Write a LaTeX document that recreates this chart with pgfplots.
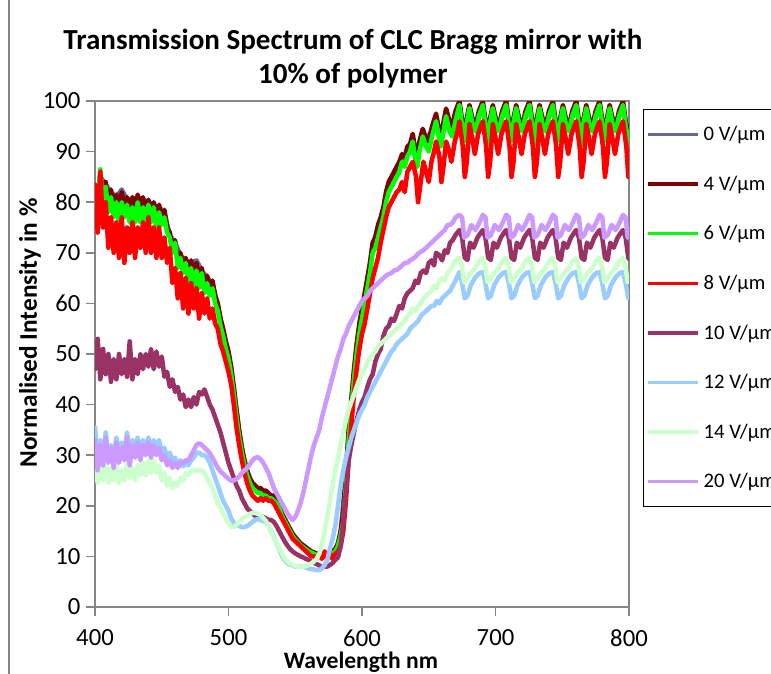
\documentclass[border=0pt]{standalone}
\usepackage{pgfplots}
\pgfplotsset{compat=1.18}
\usepackage{fontspec}
\setmainfont{Carlito}
\definecolor{c0}{RGB}{102,102,153}
\definecolor{c4}{RGB}{128,0,0}
\definecolor{c6}{RGB}{0,255,0}
\definecolor{c8}{RGB}{255,0,0}
\definecolor{c10}{RGB}{153,51,102}
\definecolor{c12}{RGB}{153,204,255}
\definecolor{c14}{RGB}{204,255,204}
\definecolor{c20}{RGB}{204,153,255}
\definecolor{axgray}{RGB}{134,134,134}
\begin{document}
\begin{tikzpicture}
\useasboundingbox (0,0) rectangle (578.25pt,-505.5pt);
\draw[axgray, line width=1.2pt] (6.75pt,0pt) -- (6.75pt,-505.5pt);
\begin{axis}[
  at={(71.25pt,-455.25pt)}, anchor=south west,
  width=400.5pt, height=379.5pt, scale only axis,
  xmin=400, xmax=800, ymin=0, ymax=100,
  xtick={400,500,600,700,800}, ytick={0,10,...,100},
  axis line style={axgray, line width=1.2pt},
  tick style={axgray, line width=1.2pt},
  tick align=outside, major tick length=6.5pt,
  xtick pos=bottom, ytick pos=left,
  ticklabel style={font=\fontsize{18.5}{20}\selectfont, text=black},
  xticklabel style={yshift=-7pt},
  yticklabel style={xshift=-1pt},
  /pgf/number format/assume math mode=true,
  title={Transmission Spectrum of CLC Bragg mirror with\\10\% of polymer},
  title style={at={(axis description cs:0.483,1.068)}, anchor=center, align=center, font=\bfseries\fontsize{21.8}{25}\selectfont},
  xlabel={Wavelength nm},
  xlabel style={at={(axis description cs:0.498,-0.110)}, anchor=center, font=\bfseries\fontsize{17.7}{20}\selectfont},
  ylabel={Normalised Intensity in \%},
  ylabel style={at={(axis description cs:-0.1217,0.5415)}, anchor=center, font=\bfseries\fontsize{19}{21}\selectfont},
  legend style={at={(axis description cs:1.0262,0.9842)}, anchor=north west, draw=black, line width=1pt,
    font=\fontsize{15.5}{18}\selectfont, inner xsep=2pt, inner ysep=0pt, row sep=0pt,
    nodes={inner xsep=3pt, inner ysep=0pt, minimum height=37.2pt}},
  legend cell align=left,
  legend image code/.code={\draw[#1, line width=2.5pt, line cap=butt] (0pt,0pt) -- (37.5pt,0pt);},
  every axis plot/.append style={line width=3.4pt, line join=round, line cap=round},
]
\addplot[c0] coordinates {(400,76)(404,85)(408,83.5)(412,82)(416,81)(420,82.5)(424,80.5)(428,80.5)(432,81)(436,80.5)(440,80)(444,79.5)(448,79)(452,78)(456,73.5)(460,72)(464,69.5)(468,68.5)(472,68)(476,68.5)(480,66.5)(484,65)(488,64)(492,59.5)(496,54.5)(500,50)(504,43)(508,34.5)(512,28.5)(516,25)(520,23.5)(524,23)(528,22.5)(532,21.5)(536,20.5)(540,18)(544,16)(548,14)(552,12.7)(556,11.7)(560,10.9)(564,10.3)(568,10)(572,10)(576,10.2)(580,11)(584,14.5)(588,26.5)(592,40.5)(596,51.5)(600,58.5)(604,64.5)(608,71.5)(612,75)(616,78.5)(620,83.5)(624,85.5)(628,87.5)(632,88.5)(636,91)(640,89.5)(643,91.5)(648,92)(652.5,94.5)(655.5,97)(659,92.5)(663,98)(667.5,94.5)(670,97.5)(673,99.5)(676.5,93)(680.5,98.7)(685,94.5)(690.5,99.5)(694,93)(698,98.7)(702.5,94.5)(708,99.5)(711.5,93)(715.5,98.7)(720,94.5)(725.5,99.5)(729,93)(733,98.7)(737.5,94.5)(743,99.5)(746.5,93)(750.5,98.7)(755,94.5)(760.5,99.5)(764,93)(768,98.7)(772.5,94.5)(778,99.5)(781.5,93)(785.5,98.7)(790,94.5)(795.5,99.5)(799,93)(800,94.5)};
\addlegendentry{\makebox[70pt][l]{0 V/µm}}
\addplot[c4] coordinates {(400,76)(402,81)(404,85.5)(406,80)(408,84)(410,79)(412,82.5)(414,78)(416,81.5)(418,78)(420,82)(422,78.5)(424,81)(426,77.5)(428,81)(430,78)(432,81.5)(434,78)(436,81)(438,77)(440,80.5)(442,77)(444,80)(446,76.5)(448,79.5)(450,76)(452,78.5)(454,75)(456,74)(458,71)(460,72.5)(462,68)(464,70)(466,67)(468,69)(470,65.5)(472,68.5)(474,65)(476,68)(478,64)(480,67)(482,63)(484,65.5)(486,63)(488,64.5)(490,61.5)(492,60)(494,57)(496,55)(498,52.5)(500,50.5)(502,47.5)(504,43.5)(506,39)(508,35)(510,31.5)(512,29)(514,27)(516,25.5)(518,24.5)(520,24)(522,23.5)(524,23.5)(526,23)(528,23)(530,22.5)(532,22)(534,22)(536,21)(538,20)(540,18.5)(542,17.5)(544,16.5)(546,15.5)(548,14.5)(550,13.8)(552,13.2)(554,12.6)(556,12.2)(558,11.8)(560,11.4)(562,11)(564,10.8)(566,10.6)(568,10.5)(570,10.6)(572,10.4)(574,10.4)(576,10.6)(578,11)(580,11.5)(582,12.5)(584,15)(586,19)(588,27)(590,35)(592,41)(594,47)(596,52)(598,56)(600,59)(602,62)(604,65)(606,68)(608,72)(610,73)(612,75.5)(614,77)(616,79)(618,82)(620,84)(622,85)(624,86)(626,87)(628,88)(630,89.5)(632,89)(634,91)(636,91.5)(638,93.5)(640,90)(641.5,89)(643,92)(645.5,94.5)(648,92.5)(650,92)(652.5,95)(655.5,97.5)(657.5,94.5)(659,93)(660.5,95)(663,98.5)(665.5,96)(667.5,95)(670,98)
(673,100)(675,96)(676.5,93.5)(678,96)(680.5,99.2)(683,96)(685,95)(687.5,98)
(690.5,100)(692.5,96)(694,93.5)(695.5,96)(698,99.2)(700.5,96)(702.5,95)(705,98)
(708,100)(710,96)(711.5,93.5)(713,96)(715.5,99.2)(718,96)(720,95)(722.5,98)
(725.5,100)(727.5,96)(729,93.5)(730.5,96)(733,99.2)(735.5,96)(737.5,95)(740,98)
(743,100)(745,96)(746.5,93.5)(748,96)(750.5,99.2)(753,96)(755,95)(757.5,98)
(760.5,100)(762.5,96)(764,93.5)(765.5,96)(768,99.2)(770.5,96)(772.5,95)(775,98)
(778,100)(780,96)(781.5,93.5)(783,96)(785.5,99.2)(788,96)(790,95)(792.5,98)
(795.5,100)(797.5,96)(799,93.5)(800,95)};
\addlegendentry{\makebox[70pt][l]{4 V/µm}}
\addplot[c6] coordinates {(400,75)(402,80)(404,86.5)(406,79)(408,83)(410,78)(412,81)(414,77)(416,80)(418,76)(420,80)(422,77)(424,79.5)(426,76)(428,79)(430,76)(432,80)(434,76)(436,79)(438,76)(440,79.5)(442,76)(444,79)(446,75)(448,78)(450,75.5)(452,77)(454,74)(456,73)(458,70)(460,72)(462,67)(464,69)(466,66)(468,68)(470,64)(472,67)(474,63)(476,66.5)(478,63)(480,66)(482,62)(484,64)(486,61.5)(488,63)(490,60)(492,58.5)(494,55.5)(496,53.5)(498,51)(500,49)(502,46)(504,42)(506,37.5)(508,33.5)(510,30.5)(512,28)(514,26)(516,24.5)(518,23.5)(520,23)(522,22.5)(524,22.5)(526,22)(528,22)(530,21.5)(532,21.5)(534,21)(536,20.5)(538,19.5)(540,18)(542,17)(544,16)(546,15)(548,14)(550,13.3)(552,12.8)(554,12.2)(556,11.8)(558,11.4)(560,11)(562,10.8)(564,10.5)(566,10.3)(568,10.2)(570,10.3)(572,10.2)(574,10)(576,10.3)(578,10.5)(580,11)(582,12)(584,14)(586,17)(588,24)(590,33)(592,39)(594,45)(596,50)(598,54)(600,57)(602,60)(604,63)(606,66)(608,70)(610,71)(612,73)(614,75)(616,77)(618,80)(620,82)(622,83)(624,84)(626,85)(628,86)(630,88)(632,87)(634,89)(636,90)(638,92)(640,88)(641.5,87)(643,90)(645.5,93)(648,91)(650,90)(652.5,93)(655.5,96)(657.5,93)(659,91)(660.5,93)(663,97)(665.5,94)(667.5,93)(670,96)
(673,99.2)(675,95)(676.5,92)(678,95)(680.5,98.6)(683,95)(685,94)(687.5,97)
(690.5,99.2)(692.5,95)(694,91.5)(695.5,95)(698,98.6)(700.5,95)(702.5,94)(705,97)
(708,99.2)(710,95)(711.5,92)(713,95)(715.5,98.6)(718,95)(720,94)(722.5,97)
(725.5,99.2)(727.5,95)(729,91.5)(730.5,95)(733,98.6)(735.5,95)(737.5,94)(740,97)
(743,99.2)(745,95)(746.5,92)(748,95)(750.5,98.6)(753,95)(755,94)(757.5,97)
(760.5,99.2)(762.5,95)(764,91.5)(765.5,95)(768,98.6)(770.5,95)(772.5,94)(775,97)
(778,99.2)(780,95)(781.5,92)(783,95)(785.5,98.6)(788,95)(790,94)(792.5,97)
(795.5,99.2)(797.5,95)(799,92)(800,94)};
\addlegendentry{\makebox[70pt][l]{6 V/µm}}
\addplot[c8] coordinates {(400,83.5)(402,74)(404,86)(406,75)(408,80)(410,71)(412,77)(414,70)(416,76)(418,69)(420,77)(422,68)(424,75)(426,70)(428,76)(430,69)(432,75)(434,71)(436,76)(438,70)(440,77)(442,70)(444,75)(446,69)(448,75)(450,69)(452,73)(454,68)(456,71)(458,64)(460,67)(462,61)(464,66)(466,59)(468,65)(470,58)(472,64)(474,59)(476,63)(478,57)(480,62)(482,58)(484,61)(486,57)(488,59)(490,56)(492,55)(494,52)(496,50.5)(498,48.5)(500,46.5)(502,44)(504,40)(506,35.5)(508,32)(510,29)(512,26.5)(514,24.5)(516,23)(518,22)(520,21.5)(522,21)(524,21.5)(526,21)(528,21.5)(530,21)(532,21)(534,20.5)(536,19.5)(538,18.5)(540,17.5)(542,16.5)(544,15.5)(546,14.5)(548,13.5)(550,13)(552,12.5)(554,12)(556,11.5)(558,11)(560,10.5)(562,10)(564,10)(566,9.5)(568,10.5)(570,9.5)(572,11)(574,9.5)(576,10.5)(578,9.5)(580,10.5)(582,11)(584,12)(586,15)(588,21)(590,29)(592,36)(594,42)(596,47)(598,51)(600,54)(602,56)(604,59)(606,62)(608,65)(610,67)(612,69)(614,72)(616,74.5)(618,77)(620,79)(622,80)(624,81)(626,82)(628,82.5)(630,84)(632,82)(634,86)(636,87)(638,88)(640.5,85)(642,80)(644,84)(646,88)(648,86)(650,84)(652,88)(654,90)(655.5,92)(658,89)(659.5,84)(661,87)(663,92)(665.5,90)(667,88)(669.5,92)(671.5,94)
(673,96)(675.5,91)(677,85)(678.5,88)(680.5,95.5)(683,92)(684.5,89.5)(687,93.5)(689,95)
(690.5,96)(693,91)(694.5,85)(696,88)(698,95.5)(700.5,92)(702,89.5)(704.5,93.5)(706.5,95)
(708,96)(710.5,91)(712,85)(713.5,88)(715.5,95.5)(718,92)(719.5,89.5)(722,93.5)(724,95)
(725.5,96)(728,91)(729.5,85)(731,88)(733,95.5)(735.5,92)(737,89.5)(739.5,93.5)(741.5,95)
(743,96)(745.5,91)(747,85)(748.5,88)(750.5,95.5)(753,92)(754.5,89.5)(757,93.5)(759,95)
(760.5,96)(763,91)(764.5,85)(766,88)(768,95.5)(770.5,92)(772,89.5)(774.5,93.5)(776.5,95)
(778,96)(780.5,91)(782,85)(783.5,88)(785.5,95.5)(788,92)(789.5,89.5)(792,93.5)(794,95)
(795.5,96)(798,91)(799.5,85)(800,86)};
\addlegendentry{\makebox[70pt][l]{8 V/µm}}
\addplot[c10] coordinates {(400,47)(402,53)(404,45)(406,51)(408,46)(410,50)(412,44.5)(414,49)(416,45)(418,50)(420,46)(422,49)(424,45.5)(426,52.5)(428,45)(430,49)(432,46)(434,50)(436,47)(438,50)(440,47.5)(442,51)(444,47)(446,50.5)(448,47.5)(450,49.5)(452,45.5)(454,46.5)(456,43.5)(458,45)(460,42.5)(462,43.5)(464,41)(466,42)(468,39.5)(470,41)(472,39.5)(474,41.5)(476,40)(478,42.5)(480,42)(482,43)(484,41.5)(486,40)(488,39)(490,37.5)(492,36)(494,34.5)(496,32.5)(498,30.5)(500,28.5)(502,27)(504,25.5)(506,24)(508,23)(510,21.5)(512,20.5)(514,19.5)(516,19)(518,18.5)(520,18)(522,18)(524,17.8)(526,17.8)(528,17.5)(530,17.2)(532,17.2)(534,16.8)(536,16)(538,15)(540,14)(542,13)(544,12.2)(546,11.5)(548,11)(550,10.6)(552,10.3)(554,10)(556,9.8)(558,9.5)(560,9.3)(562,9)(564,8.7)(566,8.5)(568,8.2)(570,8)(572,8)(574,8)(576,8.3)(578,8.7)(580,9.3)(582,9.8)(584,12)(586,17)(588,23)(590,29)(592,32)(594,34.5)(596,37)(598,39)(600,40.5)(602,41.5)(604,43.5)(606,45)(608,46)(610,48.5)(612,50)(614,51)(616,53.5)(618,55)(620,55.5)(622,57)(624,56.5)(626,58)(628,59.5)(630,59)(632,61)(634,62)(636,62.5)(638,63)(640,64.5)(642,64)(644,66)(646,66.5)(648,66)(650,68)(652,68.5)(654,67.5)(655.5,70)(658,69.5)(660,68.5)(662,70.5)(664,70)(666,72)(668,72.5)(670,73.5)
(673,74.5)(675,73)(677,69)(679,68.6)(681,72)(683.5,71)(686.5,73)(689,74)
(690.5,74.5)(692.5,73)(694.5,69)(696.5,68.6)(698.5,72)(701,71)(704,73)(706.5,74)
(708,74.5)(710,73)(712,69)(714,68.6)(716,72)(718.5,71)(721.5,73)(724,74)
(725.5,74.5)(727.5,73)(729.5,69)(731.5,68.6)(733.5,72)(736,71)(739,73)(741.5,74)
(743,74.5)(745,73)(747,69)(749,68.6)(751,72)(753.5,71)(756.5,73)(759,74)
(760.5,74.5)(762.5,73)(764.5,69)(766.5,68.6)(768.5,72)(771,71)(774,73)(776.5,74)
(778,74.5)(780,73)(782,69)(784,68.6)(786,72)(788.5,71)(791.5,73)(794,74)
(795.5,74.5)(797.5,73)(799.5,69)(800,68.8)};
\addlegendentry{\makebox[70pt][l]{10 V/µm}}
\addplot[c12] coordinates {(400,35.5)(402,29)(404,33)(406,28.5)(408,34.5)(410,29.5)(412,32)(414,29)(416,33.5)(418,30)(420,32.5)(422,30.5)(424,34.5)(426,30.5)(428,33)(430,31)(432,33.5)(434,30.5)(436,33)(438,31)(440,33.5)(442,30.5)(444,33)(446,31)(448,33)(450,30.5)(452,31.5)(454,29.5)(456,30.5)(458,29)(460,29.5)(462,28)(464,29)(466,27.8)(468,28.5)(470,28)(472,29)(474,29.5)(476,30.5)(478,30.5)(480,30)(482,30)(484,29.5)(486,28.5)(488,27)(490,25.5)(492,24)(494,22.5)(496,21)(498,20)(500,19)(502,17.5)(504,16.6)(506,16.2)(508,16)(510,15.8)(512,15.8)(514,16)(516,16.4)(518,16.8)(520,17.2)(522,17.4)(524,17.2)(526,17)(528,16.8)(530,16)(532,15)(534,13.8)(536,12.6)(538,11.4)(540,10.2)(542,9.3)(544,8.7)(546,8.4)(548,8.2)(550,8)(552,8)(554,7.9)(556,8)(558,7.8)(560,7.6)(562,7.5)(564,7.4)(566,7.3)(568,7.3)(570,7.6)(572,8.3)(574,9.3)(576,11.5)(578,13.5)(580,16)(582,20)(584,24)(586,27)(588,29.5)(590,31.5)(592,33.5)(594,35)(596,36.5)(598,38)(600,39)(602,40)(604,41.5)(606,42.5)(608,43.5)(610,44.5)(612,45.5)(614,46.5)(616,47.5)(618,48.5)(620,49.5)(622,50.5)(624,51)(626,52)(628,52.5)(630,53)(632,53.5)(634,54)(636,55)(638,55.5)(640,56)(642,56.5)(644,57.5)(646,58)(648,58.5)(650,59)(652,59.5)(654,59.5)(656,60.5)(658,60)(660,61)(662,61.5)(664,62)(666,62.5)(668,63.5)(670,64.5)
(673,66.2)(675,64)(677,61)(679,61.5)(681.5,63.6)(685,65.2)(688,66)
(690.5,66.2)(692.5,64)(694.5,61)(696.5,61.5)(699,63.6)(702.5,65.2)(705.5,66)
(708,66.2)(710,64)(712,61)(714,61.5)(716.5,63.6)(720,65.2)(723,66)
(725.5,66.2)(727.5,64)(729.5,61)(731.5,61.5)(734,63.6)(737.5,65.2)(740.5,66)
(743,66.2)(745,64)(747,61)(749,61.5)(751.5,63.6)(755,65.2)(758,66)
(760.5,66.2)(762.5,64)(764.5,61)(766.5,61.5)(769,63.6)(772.5,65.2)(775.5,66)
(778,66.2)(780,64)(782,61)(784,61.5)(786.5,63.6)(790,65.2)(793,66)
(795.5,66.2)(797.5,64)(799.5,61)(800,61.2)};
\addlegendentry{\makebox[70pt][l]{12 V/µm}}
\addplot[c14] coordinates {(400,29.5)(402,24.5)(404,28)(406,25)(408,29)(410,24.5)(412,27.5)(414,25)(416,28.5)(418,24.5)(420,27)(422,25)(424,28.5)(426,25.5)(428,27.5)(430,25)(432,28)(434,26)(436,28.5)(438,26)(440,29)(442,26.5)(444,29)(446,26.5)(448,28)(450,25)(452,26.5)(454,24)(456,25.5)(458,23.5)(460,24.5)(462,24)(464,25.5)(466,25)(468,26.5)(470,26)(472,27)(474,27)(476,27)(478,27)(480,27)(482,26.5)(484,25.5)(486,24.5)(488,23.5)(490,22)(492,20.5)(494,19.5)(496,18.5)(498,17.5)(500,16.5)(502,15.8)(504,15.8)(506,16.2)(508,16.8)(510,17.4)(512,17.8)(514,18)(516,18.4)(518,18.6)(520,18.6)(522,18.4)(524,18.2)(526,17.6)(528,17)(530,16)(532,14.8)(534,13.6)(536,12.6)(538,11.6)(540,10.6)(542,9.6)(544,9)(546,8.6)(548,8.3)(550,8.1)(552,8)(554,8)(556,8)(558,8.1)(560,8.3)(562,8.6)(564,9)(566,9.5)(568,10.5)(570,12.5)(572,15)(574,18)(576,21)(578,24)(580,27)(582,29.5)(584,32)(586,34.5)(588,37)(590,39)(592,40.5)(594,42)(596,43.5)(598,45)(600,46)(602,47)(604,48.5)(606,49)(608,50)(610,50.5)(612,51.5)(614,52)(616,52.5)(618,53)(620,53.5)(622,54)(624,54.5)(626,55)(628,55.5)(630,56)(632,56.5)(634,57.5)(636,58)(638,59)(640,58.5)(642,59.5)(644,60)(646,61)(648,61.5)(650,62)(652,62.5)(654,63.5)(656,63)(658,64.5)(660,65)(662,64.5)(664,66)(666,66.5)(668,67.5)(670,68.5)
(673,69)(675,67)(676.5,64.2)(679,65)(682,66.2)(685,67)(688,68.5)
(690.5,69)(692.5,67)(694,64.2)(696.5,65)(699.5,66.2)(702.5,67)(705.5,68.5)
(708,69)(710,67)(711.5,64.2)(714,65)(717,66.2)(720,67)(723,68.5)
(725.5,69)(727.5,67)(729,64.2)(731.5,65)(734.5,66.2)(737.5,67)(740.5,68.5)
(743,69)(745,67)(746.5,64.2)(749,65)(752,66.2)(755,67)(758,68.5)
(760.5,69)(762.5,67)(764,64.2)(766.5,65)(769.5,66.2)(772.5,67)(775.5,68.5)
(778,69)(780,67)(781.5,64.2)(784,65)(787,66.2)(790,67)(793,68.5)
(795.5,69)(797.5,67)(799,64.2)(800,64.5)};
\addlegendentry{\makebox[70pt][l]{14 V/µm}}
\addplot[c20] coordinates {(400,33)(402,27)(404,32)(406,28)(408,33.5)(410,28.5)(412,31.5)(414,27.5)(416,32.5)(418,28.5)(420,31.5)(422,29)(424,33.5)(426,28)(428,32)(430,29.5)(432,32.5)(434,29)(436,32)(438,30)(440,32.5)(442,29.5)(444,32)(446,30)(448,31.5)(450,29)(452,30)(454,28)(456,29)(458,27.5)(460,28.5)(462,27.5)(464,28.5)(466,28.5)(468,29)(470,29)(472,30)(474,31)(476,32)(478,32.4)(480,32)(482,31.5)(484,31)(486,30.4)(488,29.5)(490,28.5)(492,27.5)(494,26.8)(496,26.3)(498,25.8)(500,25.3)(502,25)(504,25)(506,25.3)(508,25.8)(510,26.5)(512,27)(514,27.5)(516,28.2)(518,29)(520,29.5)(522,29.6)(524,29.2)(526,28.5)(528,27.5)(530,26.5)(532,25)(534,23.5)(536,22.5)(538,21.5)(540,20.5)(542,19.5)(544,18.6)(546,17.8)(548,17.2)(550,17.8)(552,19)(554,20.5)(556,22.5)(558,25)(560,27.5)(562,30)(564,32)(566,33.5)(568,35)(570,37.5)(572,39.5)(574,41.5)(576,43.5)(578,45.5)(580,47.5)(582,49.5)(584,51)(586,53)(588,54)(590,55.5)(592,56.5)(594,57.5)(596,58.5)(598,59.5)(600,60.5)(602,61)(604,61.5)(606,62.5)(608,63)(610,63.5)(612,64)(614,64.5)(616,65)(618,65.5)(620,65.8)(622,66)(624,66.5)(626,66.6)(628,67)(630,67.5)(632,68)(634,68)(636,68.5)(638,68.8)(640,69.2)(642,69.8)(644,70.2)(646,70.5)(648,71)(650,71.5)(652,72)(654,72.5)(656,73)(658,73.5)(660,74)(662,74.5)(664,75.5)(666,75.5)(668,76)(670,77)
(673,77.5)(675,77)(676.5,73)(679,73.5)(682,75.5)(685,74.5)(688,76)
(690.5,77.5)(692.5,77)(694,73)(696.5,73.5)(699.5,75.5)(702.5,74.5)(705.5,76)
(708,77.5)(710,77)(711.5,73)(714,73.5)(717,75.5)(720,74.5)(723,76)
(725.5,77.5)(727.5,77)(729,73)(731.5,73.5)(734.5,75.5)(737.5,74.5)(740.5,76)
(743,77.5)(745,77)(746.5,73)(749,73.5)(752,75.5)(755,74.5)(758,76)
(760.5,77.5)(762.5,77)(764,73)(766.5,73.5)(769.5,75.5)(772.5,74.5)(775.5,76)
(778,77.5)(780,77)(781.5,73)(784,73.5)(787,75.5)(790,74.5)(793,76)
(795.5,77.5)(797.5,77)(799,73)(800,73.5)};
\addlegendentry{\makebox[70pt][l]{20 V/µm}}
\end{axis}
\end{tikzpicture}
\end{document}
